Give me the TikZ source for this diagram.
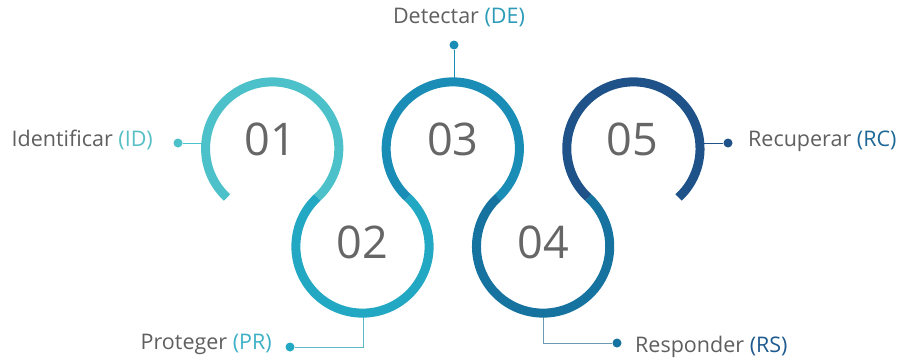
\documentclass[tikz,border=0pt]{standalone}
\usepackage{fontspec}
\setmainfont{Open Sans}
\usetikzlibrary{calc}
\definecolor{cA}{HTML}{4CC1C9}
\definecolor{cB}{HTML}{22A8C2}
\definecolor{cC}{HTML}{1A8DB6}
\definecolor{cD}{HTML}{1673A0}
\definecolor{cE}{HTML}{1E5288}
\definecolor{labgray}{HTML}{5F5F5F}
\definecolor{numgray}{HTML}{666666}
\definecolor{lID}{HTML}{56BFC6}
\definecolor{lPR}{HTML}{3DB0C6}
\definecolor{lDE}{HTML}{2B9BB8}
\definecolor{lRS}{HTML}{1F5A8E}
\definecolor{lRC}{HTML}{1D6896}
\definecolor{linePR}{HTML}{5FB8C8}
\definecolor{lineRS}{HTML}{6B9AB5}
\begin{document}
\begin{tikzpicture}[x=1pt,y=1pt,
  ring/.style={line width=9pt},
  dotn/.style={circle, inner sep=0pt, minimum size=9pt},
  conn/.style={line width=0.9pt},
  num/.style={font=\fontsize{45}{45}\selectfont, text=numgray, inner sep=0pt},
  lab/.style={font=\fontsize{21.5}{25}\selectfont, text=labgray, inner sep=0pt}]
\useasboundingbox (0,0) rectangle (904,360);
% circle centres
\coordinate (c1) at (272.2,211.5);
\coordinate (c2) at (362.5,113.5);
\coordinate (c3) at (452.8,211.5);
\coordinate (c4) at (543.1,113.5);
\coordinate (c5) at (633.4,211.5);
% ring contact points for connectors
\coordinate (rID) at (206,217);
\coordinate (rDE) at (454,278);
\coordinate (rPR) at (363,46.9);
\coordinate (rRS) at (543.5,46.9);
\coordinate (rRC) at (700,217);
% dots
\node[dotn, fill=cA] (dID) at (178,217) {};
\node[dotn, fill=cC] (dDE) at (454,315) {};
\node[dotn, fill=cB] (dPR) at (290,13) {};
\node[dotn, fill=cD] (dRS) at (617,17) {};
\node[dotn, fill=cE] (dRC) at (728,217) {};
% connectors
\draw[conn, cA] (dID) -- (rID);
\draw[conn, cC] (dDE) -- (rDE);
\draw[conn, linePR] (dPR) -| (rPR);
\draw[conn, lineRS] (rRS) |- (dRS);
\draw[conn, cE] (rRC) -- (dRC);
% rings
\draw[ring, cA] ($(c1)+(227.35:66.63)$) arc[start angle=227.35, end angle=-47.35, radius=66.63];
\draw[ring, cB] ($(c2)+(132.65:66.63)$) arc[start angle=132.65, end angle=407.35, radius=66.63];
\draw[ring, cC] ($(c3)+(227.35:66.63)$) arc[start angle=227.35, end angle=-47.35, radius=66.63];
\draw[ring, cD] ($(c4)+(132.65:66.63)$) arc[start angle=132.65, end angle=407.35, radius=66.63];
\draw[ring, cE] ($(c5)+(227.35:66.63)$) arc[start angle=227.35, end angle=-47.35, radius=66.63];
% numbers
\node[num] (n1) at ($(c1)+(-2,9)$) {01};
\node[num] (n2) at ($(c2)+(0,4)$) {02};
\node[num] (n3) at ($(c3)+(0,9)$) {03};
\node[num] (n4) at ($(c4)+(0,4)$) {04};
\node[num] (n5) at ($(c5)+(-1,9)$) {05};
% labels
\node[lab, anchor=east] (tID) at (153,220) {Identificar \textcolor{lID}{(ID)}};
\node[lab] (tDE) at (459,342) {Detectar \textcolor{lDE}{(DE)}};
\node[lab, anchor=east] (tPR) at (272,16) {Proteger \textcolor{lPR}{(PR)}};
\node[lab, anchor=west] (tRS) at (635,13) {Responder \textcolor{lRS}{(RS)}};
\node[lab, anchor=west] (tRC) at (748,219) {Recuperar \textcolor{lRC}{(RC)}};
\end{tikzpicture}
\end{document}
